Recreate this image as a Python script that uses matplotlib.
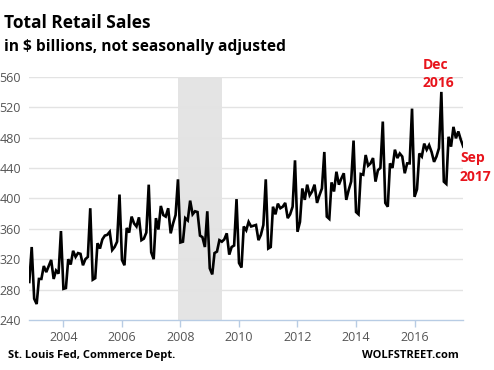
import matplotlib
matplotlib.use("Agg")
import matplotlib.pyplot as plt
import matplotlib.dates as mdates
import pandas as pd
import numpy as np

plt.rcParams["font.family"] = ["Open Sans", "DejaVu Sans"]

start_month = "2002-11-01"
sales = [
    290, 336,
    268, 261, 294, 294, 311, 303, 311, 319, 294, 305, 301, 357,   # 2003
    281, 282, 320, 313, 331, 323, 328, 327, 312, 320, 323, 387,   # 2004
    293, 295, 341, 334, 346, 351, 352, 356, 332, 336, 343, 405,   # 2005
    319, 312, 361, 355, 376, 367, 363, 375, 345, 347, 355, 418,   # 2006
    329, 320, 374, 359, 390, 378, 376, 387, 354, 367, 378, 425,   # 2007
    342, 343, 374, 371, 397, 379, 383, 382, 351, 349, 336, 383,   # 2008
    308, 300, 328, 330, 345, 343, 346, 354, 326, 336, 338, 399,   # 2009
    315, 309, 363, 358, 369, 363, 364, 365, 345, 352, 365, 425,   # 2010
    334, 336, 389, 379, 393, 387, 389, 394, 374, 379, 389, 450,   # 2011
    356, 369, 413, 398, 418, 404, 409, 418, 394, 404, 413, 461,   # 2012
    376, 373, 421, 409, 435, 418, 426, 433, 398, 411, 422, 476,   # 2013
    382, 379, 432, 431, 457, 443, 446, 453, 422, 437, 440, 501,   # 2014
    394, 389, 446, 440, 464, 453, 459, 455, 433, 446, 446, 518,   # 2015
    402, 412, 459, 455, 472, 464, 470, 461, 448, 455, 466, 540,   # 2016
    422, 419, 481, 468, 494, 479, 488, 477, 468,                  # 2017
]
recession = ("2007-12-01", "2009-06-01")
y_ticks = [240, 280, 320, 360, 400, 440, 480, 520, 560]
x_tick_years = [2004, 2006, 2008, 2010, 2012, 2014, 2016]

dates = pd.date_range(start_month, periods=len(sales), freq="MS")

W, H = 494, 370
fig = plt.figure(figsize=(W / 100, H / 100), dpi=100)
ax = fig.add_axes([29.3 / W, 1 - 320 / H, (463.3 - 29.3) / W, (320 - 76.7) / H])

ax.axvspan(pd.Timestamp(recession[0]), pd.Timestamp(recession[1]),
           color="#e4e4e4", zorder=0, lw=0)
for yv in y_ticks[1:]:
    ax.axhline(yv, color="#e3e3e3", lw=1.0, zorder=1)
ax.plot(dates, sales, color="black", lw=1.9, zorder=3, solid_joinstyle="miter")

ax.set_xlim(dates[0], dates[-1])
ax.set_ylim(240, 560)
ax.set_yticks(y_ticks)
ax.set_xticks([pd.Timestamp(f"{y}-01-01") for y in x_tick_years])
ax.xaxis.set_major_formatter(mdates.DateFormatter("%Y"))

for s in ["top", "right", "left"]:
    ax.spines[s].set_visible(False)
ax.spines["bottom"].set_color("#b8cce4")
ax.spines["bottom"].set_linewidth(1.0)
ax.tick_params(axis="x", colors="#b8cce4", length=5, width=1, labelcolor="#555555",
               labelsize=9, pad=3)
ax.tick_params(axis="y", length=0, labelcolor="#555555", labelsize=9, pad=6)

def ft(x, y, s, **kw):
    fig.text(x / W, 1 - y / H, s, **kw)

ft(4, 28, "Total Retail Sales", fontsize=12.5, fontweight="bold",
   va="baseline", ha="left")
ft(4, 51, "in $ billions, not seasonally adjusted", fontsize=11.2, fontweight="bold",
   va="baseline", ha="left")
red = "#e8141c"
ft(423, 69, "Dec", fontsize=10, fontweight="bold", color=red,
   va="baseline", ha="left")
ft(423, 87, "2016", fontsize=10, fontweight="bold", color=red,
   va="baseline", ha="left")
ft(460, 162, "Sep", fontsize=10, fontweight="bold", color=red,
   va="baseline", ha="left")
ft(460, 181, "2017", fontsize=10, fontweight="bold", color=red,
   va="baseline", ha="left")
ft(8, 358, "St. Louis Fed, Commerce Dept.", fontsize=8, fontweight="bold",
   va="baseline", ha="left")
ft(362, 358, "WOLFSTREET.com", fontsize=8, fontweight="bold",
   va="baseline", ha="left")

fig.savefig("out.png", dpi=100)
